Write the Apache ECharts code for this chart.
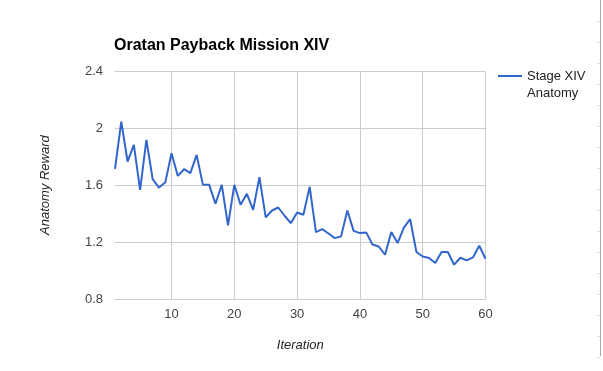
<!DOCTYPE html>
<html>
<head>
<meta charset="utf-8">
<script src="https://cdn.jsdelivr.net/npm/echarts@6/dist/echarts.min.js"></script>
<style>html,body{margin:0;padding:0;background:#fff}#c{width:603px;height:371px}</style>
</head>
<body>
<div id="c"></div>
<script>
var titleText = 'Oratan Payback Mission XIV';
var seriesName = 'Stage XIV\nAnatomy';
var xAxisName = 'Iteration';
var yAxisName = 'Anatomy Reward';
var iterations = [1,2,3,4,5,6,7,8,9,10,11,12,13,14,15,16,17,18,19,20,21,22,23,24,25,26,27,28,29,30,31,32,33,34,35,36,37,38,39,40,41,42,43,44,45,46,47,48,49,50,51,52,53,54,55,56,57,58,59,60];
var rewards = [1.714,2.046,1.766,1.883,1.567,1.918,1.642,1.583,1.618,1.824,1.665,1.712,1.684,1.813,1.602,1.602,1.469,1.602,1.317,1.602,1.462,1.539,1.427,1.656,1.373,1.422,1.443,1.385,1.333,1.408,1.392,1.588,1.270,1.291,1.260,1.228,1.240,1.422,1.279,1.263,1.268,1.183,1.169,1.111,1.270,1.193,1.302,1.361,1.130,1.099,1.088,1.053,1.130,1.130,1.041,1.090,1.071,1.092,1.174,1.083];
var xTicks = [10,20,30,40,50,60];
var yTicks = [0.8,1.2,1.6,2,2.4];

var data = iterations.map(function(x,i){return [x, rewards[i]];});
var font = 'Arial, "Liberation Sans", sans-serif';

var deco = [{type:'line', shape:{x1:600.5,y1:0,x2:600.5,y2:356}, style:{stroke:'#a8a8a8', lineWidth:1}, silent:true}];
for (var k = 0; k < 17; k++) {
  deco.push({type:'line', shape:{x1:597,y1:21*(k+1)+0.5,x2:600,y2:21*(k+1)+0.5}, style:{stroke:'#dddddd', lineWidth:1}, silent:true});
}

var chart = echarts.init(document.getElementById('c'));
chart.setOption({
  animation: false,
  backgroundColor: '#fff',
  textStyle: {fontFamily: font},
  title: {
    text: titleText, left: 114, top: 38, padding: 0,
    textStyle: {fontFamily: font, fontSize: 16, fontWeight: 'bold', color: '#000'}
  },
  legend: {
    left: 498, top: 50.5, padding: 0,
    icon: 'rect', itemWidth: 24, itemHeight: 2, itemGap: 5,
    itemStyle: {borderWidth: 0},
    formatter: function(n){ return ' \n' + n; },
    textStyle: {fontFamily: font, fontSize: 13, color: '#222', lineHeight: 17},
    data: [seriesName]
  },
  grid: {left: 115, right: 117.5, top: 71.3, bottom: 72, containLabel: false},
  xAxis: {
    type: 'value', min: 1, max: 60,
    name: xAxisName, nameLocation: 'middle', nameGap: 40,
    nameTextStyle: {fontFamily: font, fontSize: 13, fontStyle: 'italic', color: '#222'},
    axisLine: {show: false},
    axisTick: {show: false, customValues: xTicks},
    axisLabel: {customValues: xTicks, fontFamily: font, fontSize: 13, color: '#444', margin: 9},
    splitLine: {show: true, lineStyle: {color: '#cccccc', width: 1}}
  },
  yAxis: {
    type: 'value', min: 0.8, max: 2.4, interval: 0.4,
    name: yAxisName, nameLocation: 'middle', nameGap: 63,
    nameTextStyle: {fontFamily: font, fontSize: 13, fontStyle: 'italic', color: '#222'},
    axisLine: {show: false}, axisTick: {show: false},
    axisLabel: {fontFamily: font, fontSize: 13, color: '#444', margin: 12,
      formatter: function(v){ return String(Math.round(v*10)/10); }},
    splitLine: {show: true, lineStyle: {color: '#cccccc', width: 1}}
  },
  series: [{
    name: seriesName, type: 'line', data: data,
    showSymbol: false, symbol: 'none',
    lineStyle: {color: '#3366cc', width: 2},
    itemStyle: {color: '#3366cc'}
  }],
  graphic: deco
});
</script>
</body>
</html>
